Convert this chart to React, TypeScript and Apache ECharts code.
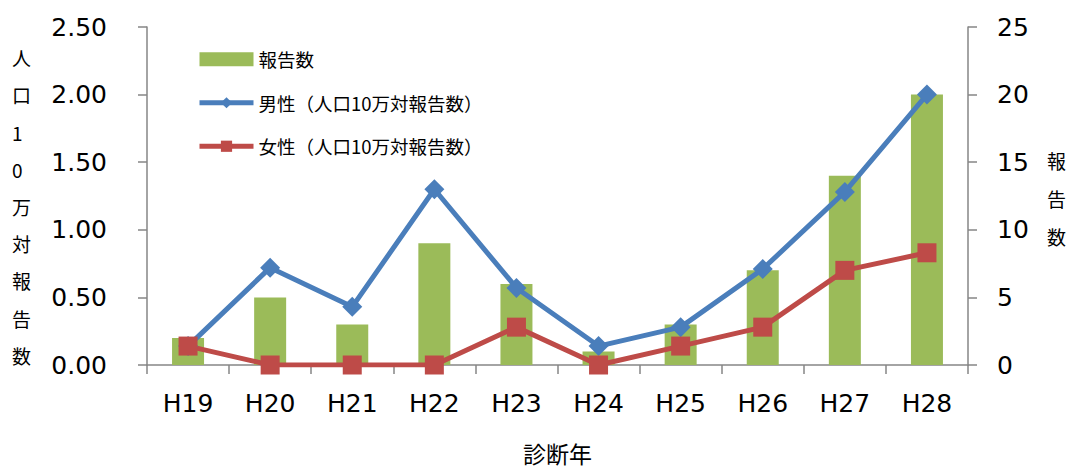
import React, { useEffect, useRef } from "react";
import * as echarts from "echarts";

const categories = ["H19", "H20", "H21", "H22", "H23", "H24", "H25", "H26", "H27", "H28"];
const reportCounts = [2, 5, 3, 9, 6, 1, 3, 7, 14, 20];
const maleRates = [0.14, 0.72, 0.43, 1.3, 0.57, 0.14, 0.28, 0.71, 1.28, 2.0];
const femaleRates = [0.14, 0, 0, 0, 0.28, 0, 0.14, 0.28, 0.7, 0.83];
const leftTitleChars = ["人", "口", "1", "0", "万", "対", "報", "告", "数"];
const rightTitleChars = ["報", "告", "数"];

const LATIN = "'DejaVu Sans', Verdana, sans-serif";
const CJK = "'Noto Sans CJK JP', 'DejaVu Sans', sans-serif";
const AXIS_COLOR = "#868686";

export default function App() {
  const ref = useRef<HTMLDivElement>(null);
  useEffect(() => {
    if (!ref.current) return;
    const chart = echarts.init(ref.current, null, { renderer: "svg" });
    const axisCommon = {
      axisLine: { show: true, lineStyle: { color: AXIS_COLOR, width: 1.5 } },
      axisTick: { show: true, length: 9, lineStyle: { color: AXIS_COLOR, width: 1.5 } },
      splitLine: { show: false },
    };
    chart.setOption({
      animation: false,
      backgroundColor: "#ffffff",
      grid: {
        left: 147,
        right: 104,
        top: 27,
        bottom: 105,
        containLabel: false,
        outerBoundsMode: "none",
      },
      legend: {
        orient: "vertical",
        left: 192,
        top: 45,
        itemWidth: 54,
        itemHeight: 14,
        itemGap: 25,
        lineStyle: { width: 5 },
        textStyle: { fontFamily: CJK, fontSize: 18.5, color: "#000" },
        data: [
          { name: "報告数", icon: "rect" },
          { name: "男性（人口10万対報告数）" },
          { name: "女性（人口10万対報告数）" },
        ],
      },
      xAxis: {
        type: "category",
        data: categories,
        boundaryGap: true,
        ...axisCommon,
        axisLabel: { fontFamily: LATIN, fontSize: 25, color: "#000", margin: 26 },
        name: "診断年",
        nameLocation: "middle",
        nameGap: 76,
        nameTextStyle: { fontFamily: CJK, fontSize: 23, color: "#000" },
      },
      yAxis: [
        {
          type: "value",
          min: 0,
          max: 2.5,
          interval: 0.5,
          position: "left",
          ...axisCommon,
          axisLabel: {
            fontFamily: LATIN,
            fontSize: 25,
            color: "#000",
            margin: 40,
            formatter: (v: number) => v.toFixed(2),
          },
        },
        {
          type: "value",
          min: 0,
          max: 25,
          interval: 5,
          position: "right",
          ...axisCommon,
          axisLabel: { fontFamily: LATIN, fontSize: 25, color: "#000", margin: 29 },
        },
      ],
      series: [
        {
          name: "報告数",
          type: "bar",
          yAxisIndex: 1,
          data: reportCounts,
          barWidth: 32,
          itemStyle: { color: "#9bbb59" },
        },
        {
          name: "男性（人口10万対報告数）",
          type: "line",
          yAxisIndex: 0,
          data: maleRates,
          symbol: "diamond",
          symbolSize: 20,
          lineStyle: { color: "#4a7ebb", width: 5 },
          itemStyle: { color: "#4a7ebb" },
        },
        {
          name: "女性（人口10万対報告数）",
          type: "line",
          yAxisIndex: 0,
          data: femaleRates,
          symbol: "rect",
          symbolSize: 19,
          lineStyle: { color: "#be4b48", width: 5 },
          itemStyle: { color: "#be4b48" },
        },
      ],
      graphic: [
        {
          type: "text",
          left: 12,
          top: 39,
          style: {
            text: leftTitleChars.join("\n"),
            fontFamily: CJK,
            fontSize: 19,
            lineHeight: 37.2,
            fill: "#000",
            align: "center",
            width: 22,
          },
        },
        {
          type: "text",
          left: 1047,
          top: 141,
          style: {
            text: rightTitleChars.join("\n"),
            fontFamily: CJK,
            fontSize: 19,
            lineHeight: 38,
            fill: "#000",
            align: "center",
            width: 22,
          },
        },
      ],
    });
    return () => chart.dispose();
  }, []);
  return (
    <div
      ref={ref}
      style={{ position: "fixed", left: 0, top: 0, width: 1072, height: 470 }}
    />
  );
}
